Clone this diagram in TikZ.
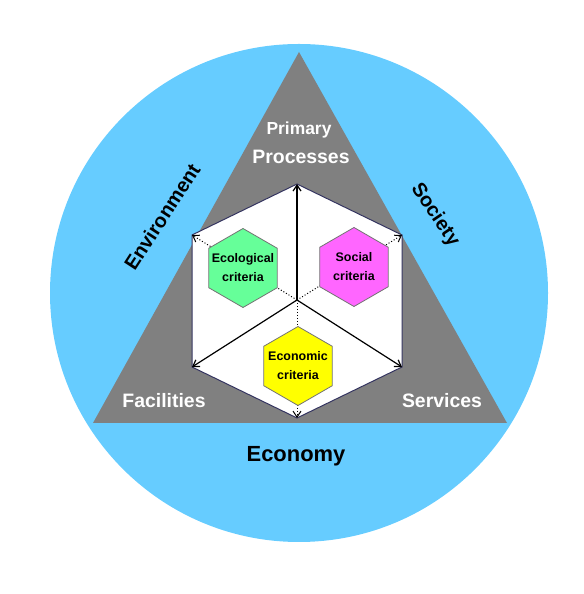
\documentclass[tikz,border=0pt]{standalone}
\usepackage{fontspec}
\setmainfont{Liberation Sans}
\usepackage{tikz}
\usetikzlibrary{shapes.geometric}
\usetikzlibrary{arrows.meta}
\usepackage{xcolor}

\definecolor{skyfill}{HTML}{66CCFF}
\definecolor{trigray}{HTML}{808080}
\definecolor{hexline}{HTML}{33335F}
\definecolor{ecogreen}{HTML}{66FF99}
\definecolor{socpink}{HTML}{FF66FF}
\definecolor{econyellow}{HTML}{FFFF00}

\begin{document}
\begin{tikzpicture}[
  x=10bp, y=10bp,
  corner/.style={text=white, font=\bfseries\fontsize{19.5}{22}\selectfont},
  pillar/.style={text=black, font=\bfseries\fontsize{20}{22}\selectfont},
  crit/.style={text=black, align=center, inner sep=0pt,
    font=\bfseries\fontsize{12.5}{19}\selectfont},
  crithex/.style={regular polygon, regular polygon sides=6, shape border rotate=30,
    minimum size=79bp, inner sep=0pt, draw=black!55, line width=0.8bp},
  axis/.style={-{Straight Barb[length=6bp,width=8bp]}, line width=1.2bp},
  dotaxis/.style={-{Straight Barb[length=6bp,width=8bp]}, line width=1bp, dotted}
]
\useasboundingbox (0,0) rectangle (58.4,59.4);

% Outer disc and triangle
\fill[skyfill] (29.9,30.1) circle (24.9);
\fill[trigray] (29.9,54.2) -- (9.3,17.1) -- (50.7,17.1) -- cycle;

% Hexagon corners
\coordinate (hc) at (29.7,29.4);
\coordinate (htop) at (29.7,41.0);
\coordinate (hul) at (19.2,35.9);
\coordinate (hll) at (19.2,22.7);
\coordinate (hbot) at (29.7,17.6);
\coordinate (hlr) at (40.2,22.7);
\coordinate (hur) at (40.2,35.9);

\filldraw[fill=white, draw=hexline, line width=1bp]
  (htop) -- (hul) -- (hll) -- (hbot) -- (hlr) -- (hur) -- cycle;

% Dotted axes (behind the criteria)
\draw[dotaxis] (hc) -- (hul);
\draw[dotaxis] (hc) -- (hur);
\draw[dotaxis] (hc) -- (hbot);

% Criteria
\node[crithex, fill=ecogreen, label={[crit]center:Ecological\\criteria}] (eco) at (24.3,32.6) {};
\node[crithex, fill=socpink, label={[crit]center:Social\\criteria}] (soc) at (35.4,32.7) {};
\node[crithex, fill=econyellow, label={[crit]center:Economic\\criteria}] (econ) at (29.8,22.8) {};

% Solid axes
\draw[axis] (hc) -- (htop);
\draw[axis] (hc) -- (hll);
\draw[axis] (hc) -- (hlr);

% Corner labels
\node[corner, font=\bfseries\fontsize{17.5}{20}\selectfont] (prim) at (29.9,46.4) {Primary};
\node[corner] (proc) at (30.1,43.7) {Processes};
\node[corner] (fac) at (16.4,19.3) {Facilities};
\node[corner] (serv) at (44.2,19.3) {Services};

% Pillars
\node[pillar, rotate=57] (env) at (16.2,37.7) {Environment};
\node[pillar, rotate=-56] (soci) at (43.5,37.9) {Society};
\node[pillar, font=\bfseries\fontsize{22}{24}\selectfont] (ecol) at (29.6,13.8) {Economy};

\end{tikzpicture}
\end{document}
